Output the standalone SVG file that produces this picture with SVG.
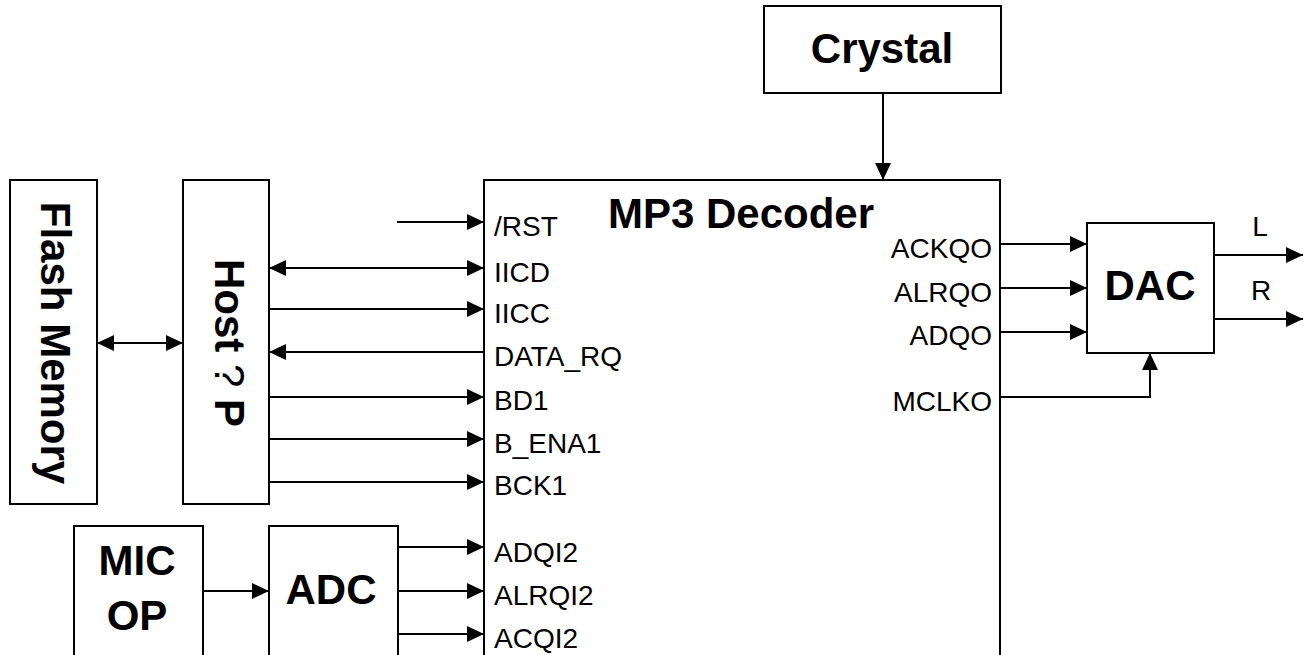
<svg xmlns="http://www.w3.org/2000/svg" width="1306" height="655" viewBox="0 0 1306 655">
<style>
.box{fill:#fff;stroke:#000;stroke-width:2}
.ln{fill:none;stroke:#000;stroke-width:2}
.a{marker-end:url(#ah)}
.b{marker-start:url(#ah);marker-end:url(#ah)}
.lbl{font-family:"Liberation Sans",Arial,sans-serif;font-size:28px;fill:#000}
.big{font-family:"Liberation Sans",Arial,sans-serif;font-size:42px;font-weight:bold;fill:#000}
</style>
<defs>
<marker id="ah" viewBox="0 0 17 16" refX="17" refY="8" markerWidth="17" markerHeight="16" markerUnits="userSpaceOnUse" orient="auto-start-reverse">
<path d="M0,0 L17,8 L0,16 z" fill="#000"/>
</marker>
</defs>
<rect width="1306" height="655" fill="#fff"/>

<g id="flash">
<rect class="box" x="10" y="180" width="87" height="324"/>
<text class="big" text-anchor="middle" transform="translate(41,343) rotate(90)" font-size="43">Flash Memory</text>
</g>
<g id="host">
<rect class="box" x="183" y="180" width="86" height="324"/>
<text class="big" text-anchor="middle" transform="translate(215,343) rotate(90)" font-size="43">Host <tspan font-weight="normal">?</tspan> P</text>
</g>
<g id="crystal">
<rect class="box" x="764" y="6" width="237" height="87"/>
<text class="big" x="882" y="63" text-anchor="middle">Crystal</text>
</g>
<g id="mp3">
<rect class="box" x="484" y="180" width="516" height="476"/>
<text class="big" x="741" y="228" text-anchor="middle">MP3 Decoder</text>
<text class="lbl" x="494" y="236">/RST</text>
<text class="lbl" x="494" y="282">IICD</text>
<text class="lbl" x="494" y="323">IICC</text>
<text class="lbl" x="494" y="366">DATA_RQ</text>
<text class="lbl" x="494" y="410">BD1</text>
<text class="lbl" x="494" y="453">B_ENA1</text>
<text class="lbl" x="494" y="495">BCK1</text>
<text class="lbl" x="494" y="562">ADQI2</text>
<text class="lbl" x="494" y="605">ALRQI2</text>
<text class="lbl" x="494" y="648">ACQI2</text>
<text class="lbl" x="992" y="258" text-anchor="end">ACKQO</text>
<text class="lbl" x="992" y="302" text-anchor="end">ALRQO</text>
<text class="lbl" x="992" y="345" text-anchor="end">ADQO</text>
<text class="lbl" x="992" y="411" text-anchor="end">MCLKO</text>
</g>
<g id="dac">
<rect class="box" x="1087" y="223" width="127" height="130"/>
<text class="big" x="1150" y="300" text-anchor="middle">DAC</text>
</g>
<g id="micop">
<rect class="box" x="74" y="526" width="129" height="130"/>
<text class="big" x="137" y="575" text-anchor="middle">MIC</text>
<text class="big" x="137" y="630" text-anchor="middle">OP</text>
</g>
<g id="adc">
<rect class="box" x="269" y="526" width="129" height="130"/>
<text class="big" x="331" y="604" text-anchor="middle">ADC</text>
</g>

<g id="connectors">
<line class="ln b" x1="97" y1="343" x2="183" y2="343"/>
<line class="ln a" x1="883" y1="93" x2="883" y2="180"/>
<line class="ln a" x1="397" y1="222" x2="484" y2="222"/>
<line class="ln b" x1="269" y1="268" x2="484" y2="268"/>
<line class="ln a" x1="269" y1="309" x2="484" y2="309"/>
<line class="ln a" x1="484" y1="352" x2="269" y2="352"/>
<line class="ln a" x1="269" y1="397" x2="484" y2="397"/>
<line class="ln a" x1="269" y1="439" x2="484" y2="439"/>
<line class="ln a" x1="269" y1="482" x2="484" y2="482"/>
<line class="ln a" x1="203" y1="591" x2="269" y2="591"/>
<line class="ln a" x1="398" y1="547" x2="484" y2="547"/>
<line class="ln a" x1="398" y1="591" x2="484" y2="591"/>
<line class="ln a" x1="398" y1="634" x2="484" y2="634"/>
<line class="ln a" x1="1000" y1="244" x2="1087" y2="244"/>
<line class="ln a" x1="1000" y1="288" x2="1087" y2="288"/>
<line class="ln a" x1="1000" y1="332" x2="1087" y2="332"/>
<polyline class="ln a" points="1000,397 1150,397 1150,353"/>
<line class="ln a" x1="1214" y1="255" x2="1303" y2="255"/>
<line class="ln a" x1="1214" y1="319" x2="1303" y2="319"/>
<text class="lbl" x="1260" y="236" text-anchor="middle">L</text>
<text class="lbl" x="1261" y="300" text-anchor="middle">R</text>
</g>
</svg>
